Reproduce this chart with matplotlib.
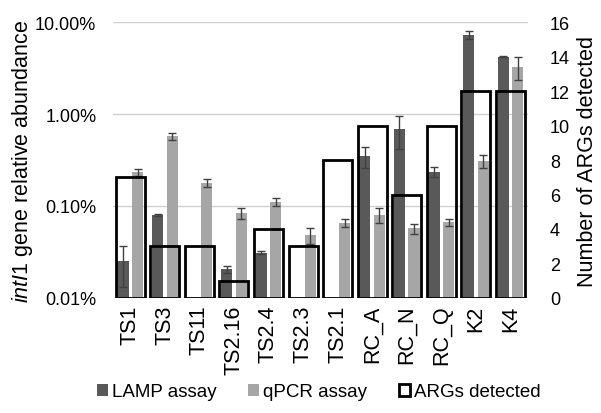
import numpy as np
import matplotlib
matplotlib.use("Agg")
import matplotlib.pyplot as plt
from matplotlib.ticker import FuncFormatter, FixedLocator, NullLocator

plt.rcParams['font.family'] = ['Liberation Sans', 'DejaVu Sans']
plt.rcParams['mathtext.fontset'] = 'custom'
plt.rcParams['mathtext.it'] = 'Liberation Sans:italic'
plt.rcParams['mathtext.rm'] = 'Liberation Sans'

# muestras
muestras = ['TS1', 'TS3', 'TS11', 'TS2.16', 'TS2.4', 'TS2.3', 'TS2.1',
            'RC_A', 'RC_N', 'RC_Q', 'K2', 'K4']
# abundancia relativa intI1 (%)
lamp = [0.024, 0.079, np.nan, 0.0195, 0.030, np.nan, np.nan,
        0.35, 0.69, 0.236, 7.3, 4.2]
lamp_err = [0.012, 0.002, 0, 0.002, 0.001, 0, 0,
            0.09, 0.27, 0.03, 0.7, 0.05]
qpcr = [0.232, 0.57, 0.177, 0.083, 0.11, 0.047, 0.065,
        0.079, 0.056, 0.066, 0.31, 3.27]
qpcr_err = [0.02, 0.05, 0.018, 0.011, 0.011, 0.009, 0.007,
            0.014, 0.007, 0.006, 0.05, 0.9]
# numero de ARGs detectados
args_det = [7, 3, 3, 1, 4, 3, 8, 10, 6, 10, 12, 12]

oscuro = '#595959'
claro = '#a6a6a6'

fig = plt.figure(figsize=(6.01, 4.14), dpi=100)
ax = fig.add_axes([0.188, 0.278, 0.69, 0.666])
ax2 = ax.twinx()

x = np.arange(len(muestras))
ax.bar(x - 0.21, lamp, width=0.32, color=oscuro, bottom=0.001,
       yerr=lamp_err, error_kw=dict(ecolor='#404040', capsize=3, elinewidth=1),
       label='LAMP assay', zorder=2)
ax.bar(x + 0.21, qpcr, width=0.32, color=claro, bottom=0.001,
       yerr=qpcr_err, error_kw=dict(ecolor='#404040', capsize=3, elinewidth=1),
       label='qPCR assay', zorder=2)
ax.set_yscale('log')
ax.set_ylim(0.01, 10)
ax.set_xlim(-0.5, len(muestras) - 0.5)
ax.yaxis.set_major_locator(FixedLocator([0.01, 0.1, 1, 10]))
ax.yaxis.set_minor_locator(NullLocator())
ax.yaxis.set_major_formatter(FuncFormatter(lambda v, p: '%.2f%%' % v))
ax.grid(axis='y', color='#d0d0d0', linewidth=1, zorder=0)
ax.set_axisbelow(True)
ax.set_xticks(x)
ax.set_xticklabels(muestras, rotation=90, fontsize=15.5)
ax.tick_params(axis='y', length=0, labelsize=13, pad=12)
ax.tick_params(axis='x', length=0, pad=5)
ax.set_ylabel(r'$\it{intI1}$ gene relative abundance', fontsize=15.5, labelpad=0)

ax2.bar(x, args_det, width=0.84, facecolor='none', edgecolor='black',
        linewidth=2, label='ARGs detected')
ax2.set_ylim(0, 16)
ax2.set_yticks(range(0, 17, 2))
ax2.tick_params(length=0, labelsize=13, pad=16)
ax2.set_ylabel('Number of ARGs detected', fontsize=15.5, labelpad=5)

for a in (ax, ax2):
    for s in a.spines.values():
        s.set_visible(False)

h1, l1 = ax.get_legend_handles_labels()
h2, l2 = ax2.get_legend_handles_labels()
fig.legend(h1 + h2, l1 + l2, loc='lower center', bbox_to_anchor=(0.53, -0.01),
           ncol=3, frameon=False, fontsize=13.5, handlelength=0.6,
           handleheight=0.6, handletextpad=0.2, columnspacing=1.7)

fig.savefig('out.png', dpi=100)
